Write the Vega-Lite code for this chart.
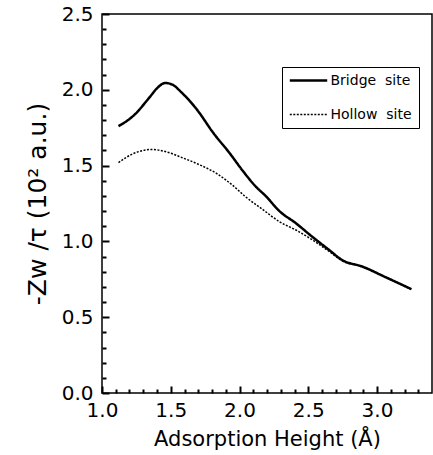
{
  "$schema": "https://vega.github.io/schema/vega-lite/v6.json",
  "width": 330,
  "height": 379,
  "autosize": {"type": "none"},
  "padding": {"left": 102, "top": 14, "right": 1, "bottom": 62},
  "background": "white",
  "config": {
    "view": {"stroke": "black", "strokeWidth": 1.5},
    "axis": {
      "domain": false,
      "grid": false,
      "labelFont": "DejaVu Sans",
      "labelFontSize": 20,
      "labelColor": "black",
      "titleFont": "DejaVu Sans",
      "titleFontWeight": "normal",
      "titleColor": "black",
      "labelFlush": false,
      "labelOverlap": false,
      "labelBound": false
    }
  },
  "data": {
    "values": [
      {"site": "Bridge\u00a0 site", "h": 1.12, "z": 1.76},
      {"site": "Bridge\u00a0 site", "h": 1.23, "z": 1.83},
      {"site": "Bridge\u00a0 site", "h": 1.35, "z": 1.955},
      {"site": "Bridge\u00a0 site", "h": 1.40, "z": 2.01},
      {"site": "Bridge\u00a0 site", "h": 1.46, "z": 2.045},
      {"site": "Bridge\u00a0 site", "h": 1.52, "z": 2.03},
      {"site": "Bridge\u00a0 site", "h": 1.57, "z": 1.99},
      {"site": "Bridge\u00a0 site", "h": 1.69, "z": 1.87},
      {"site": "Bridge\u00a0 site", "h": 1.81, "z": 1.715},
      {"site": "Bridge\u00a0 site", "h": 1.93, "z": 1.58},
      {"site": "Bridge\u00a0 site", "h": 2.02, "z": 1.47},
      {"site": "Bridge\u00a0 site", "h": 2.12, "z": 1.36},
      {"site": "Bridge\u00a0 site", "h": 2.19, "z": 1.30},
      {"site": "Bridge\u00a0 site", "h": 2.29, "z": 1.20},
      {"site": "Bridge\u00a0 site", "h": 2.41, "z": 1.12},
      {"site": "Bridge\u00a0 site", "h": 2.53, "z": 1.03},
      {"site": "Bridge\u00a0 site", "h": 2.65, "z": 0.945},
      {"site": "Bridge\u00a0 site", "h": 2.75, "z": 0.875},
      {"site": "Bridge\u00a0 site", "h": 2.89, "z": 0.835},
      {"site": "Bridge\u00a0 site", "h": 3.06, "z": 0.765},
      {"site": "Bridge\u00a0 site", "h": 3.25, "z": 0.685},
      {"site": "Hollow\u00a0 site", "h": 1.12, "z": 1.52},
      {"site": "Hollow\u00a0 site", "h": 1.23, "z": 1.58},
      {"site": "Hollow\u00a0 site", "h": 1.30, "z": 1.60},
      {"site": "Hollow\u00a0 site", "h": 1.36, "z": 1.607},
      {"site": "Hollow\u00a0 site", "h": 1.47, "z": 1.59},
      {"site": "Hollow\u00a0 site", "h": 1.59, "z": 1.55},
      {"site": "Hollow\u00a0 site", "h": 1.71, "z": 1.505},
      {"site": "Hollow\u00a0 site", "h": 1.83, "z": 1.45},
      {"site": "Hollow\u00a0 site", "h": 1.95, "z": 1.37},
      {"site": "Hollow\u00a0 site", "h": 2.05, "z": 1.29},
      {"site": "Hollow\u00a0 site", "h": 2.17, "z": 1.21},
      {"site": "Hollow\u00a0 site", "h": 2.29, "z": 1.13},
      {"site": "Hollow\u00a0 site", "h": 2.41, "z": 1.075},
      {"site": "Hollow\u00a0 site", "h": 2.53, "z": 1.01},
      {"site": "Hollow\u00a0 site", "h": 2.65, "z": 0.935},
      {"site": "Hollow\u00a0 site", "h": 2.75, "z": 0.87},
      {"site": "Hollow\u00a0 site", "h": 2.89, "z": 0.835},
      {"site": "Hollow\u00a0 site", "h": 3.06, "z": 0.765},
      {"site": "Hollow\u00a0 site", "h": 3.25, "z": 0.685}
    ]
  },
  "mark": {"type": "line", "color": "black", "interpolate": "monotone"},
  "encoding": {
    "x": {
      "field": "h", "type": "quantitative",
      "scale": {"domain": [1.0, 3.4], "nice": false, "zero": false},
      "axis": {
        "orient": "bottom",
        "title": "Adsorption Height (Å)",
        "titleFontSize": 21,
        "titlePadding": 5,
        "values": [1.0,1.1,1.2,1.3,1.4,1.5,1.6,1.7,1.8,1.9,2.0,2.1,2.2,2.3,2.4,2.5,2.6,2.7,2.8,2.9,3.0,3.1,3.2,3.3],
        "tickSize": {"condition": {"test": "abs(datum.value*2 - round(datum.value*2)) < 0.001", "value": -7}, "value": -4},
        "tickColor": "black",
        "tickWidth": 2,
        "labelPadding": 14,
        "labelExpr": "abs(datum.value*2 - round(datum.value*2)) < 0.001 ? format(datum.value, '.1f') : ''"
      }
    },
    "y": {
      "field": "z", "type": "quantitative",
      "scale": {"domain": [0, 2.5], "nice": false},
      "axis": {
        "orient": "left",
        "title": "-Zw /τ (10² a.u.)",
        "titleFontSize": 25,
        "titlePadding": 11,
        "values": [0,0.1,0.2,0.3,0.4,0.5,0.6,0.7,0.8,0.9,1.0,1.1,1.2,1.3,1.4,1.5,1.6,1.7,1.8,1.9,2.0,2.1,2.2,2.3,2.4,2.5],
        "tickSize": {"condition": {"test": "abs(datum.value*2 - round(datum.value*2)) < 0.001", "value": -7}, "value": -4},
        "tickColor": "black",
        "tickWidth": 2,
        "labelPadding": 16,
        "labelExpr": "abs(datum.value*2 - round(datum.value*2)) < 0.001 ? format(datum.value, '.1f') : ''"
      }
    },
    "strokeDash": {
      "field": "site", "type": "nominal",
      "scale": {"domain": ["Bridge\u00a0 site", "Hollow\u00a0 site"], "range": [[1, 0], [2, 1.5]]},
      "legend": {
        "orient": "none",
        "legendX": 180,
        "legendY": 53,
        "title": null,
        "strokeColor": "black",
        "fillColor": "white",
        "padding": 6.5,
        "clipHeight": 14,
        "symbolType": "stroke",
        "symbolSize": 1400,
        "symbolStrokeWidth": 1.5,
        "symbolStrokeColor": "black",
        "labelFont": "DejaVu Sans",
        "labelFontSize": 14,
        "labelColor": "black",
        "labelOffset": 2,
        "rowPadding": 20
      }
    },
    "strokeWidth": {
      "field": "site", "type": "nominal",
      "scale": {"domain": ["Bridge\u00a0 site", "Hollow\u00a0 site"], "range": [2.5, 1.5]},
      "legend": null
    }
  }
}
